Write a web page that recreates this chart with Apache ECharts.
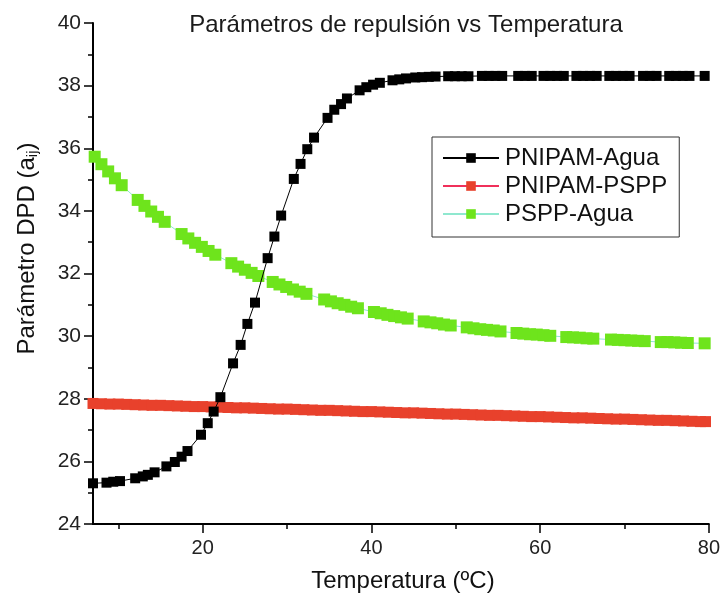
<!DOCTYPE html>
<html>
<head>
<meta charset="utf-8">
<script src="https://cdn.jsdelivr.net/npm/echarts@6/dist/echarts.min.js"></script>
<style>html,body{margin:0;padding:0;background:#fff}#c{width:723px;height:605px}</style>
</head>
<body>
<div id="c"></div>
<script>
// ---- data ----
const titleText = 'Parámetros de repulsión vs Temperatura';
const xName = 'Temperatura (ºC)';
const seriesNames = ['PNIPAM-Agua', 'PNIPAM-PSPP', 'PSPP-Agua'];
const xMajorTicks = [20, 40, 60, 80];
const xMinorTicks = [10, 30, 50, 70];

const blackT = [7.0, 8.6, 9.4, 10.2, 12.0, 12.9, 13.5, 14.3, 15.7, 16.7, 17.5, 18.2, 19.8, 20.6, 21.3, 22.1,
  23.6, 24.5, 25.3, 26.2, 27.7, 28.5, 29.3, 30.8, 31.6, 32.4, 33.2, 34.8, 35.6, 36.4, 37.1,
  38.6, 39.4, 40.2, 41.0, 42.5, 43.3, 44.1, 45.2, 46.0, 46.8, 47.6, 49.1, 49.9, 50.7, 51.5,
  53.1, 53.9, 54.7, 55.5, 57.4, 58.2, 59.0, 60.4, 61.2, 62.0, 62.8, 64.3, 65.1, 65.9, 66.7,
  68.2, 69.0, 69.8, 70.6, 72.2, 73.0, 73.8, 75.3, 76.1, 76.9, 77.7, 79.5];
const blackY = [25.30, 25.32, 25.35, 25.37, 25.46, 25.52, 25.57, 25.65, 25.84, 25.98, 26.15, 26.33, 26.85, 27.22, 27.59, 28.05,
  29.13, 29.72, 30.39, 31.07, 32.49, 33.18, 33.85, 35.02, 35.50, 35.97, 36.34, 36.97, 37.23, 37.41, 37.59,
  37.85, 37.95, 38.03, 38.09, 38.17, 38.20, 38.23, 38.26, 38.27, 38.28, 38.29, 38.30, 38.30, 38.30, 38.30,
  38.31, 38.31, 38.31, 38.31, 38.31, 38.31, 38.31, 38.31, 38.31, 38.31, 38.31, 38.31, 38.31, 38.31, 38.31,
  38.31, 38.31, 38.31, 38.31, 38.31, 38.31, 38.31, 38.31, 38.31, 38.31, 38.31, 38.31];

const redT = [7, 8, 9, 10, 11, 12, 13, 14, 15, 16, 17, 18, 19, 20, 21, 22, 23, 24, 25, 26, 27, 28, 29, 30,
  31, 32, 33, 34, 35, 36, 37, 38, 39, 40, 41, 42, 43, 44, 45, 46, 47, 48, 49, 50, 51, 52, 53, 54,
  55, 56, 57, 58, 59, 60, 61, 62, 63, 64, 65, 66, 67, 68, 69, 70, 71, 72, 73, 74, 75, 76, 77, 78, 79, 79.6];
const redY = [27.85, 27.84, 27.83, 27.83, 27.82, 27.81, 27.80, 27.79, 27.79, 27.78, 27.77, 27.76, 27.75,
  27.75, 27.74, 27.73, 27.72, 27.71, 27.71, 27.70, 27.69, 27.68, 27.67, 27.67, 27.66, 27.65, 27.64, 27.63,
  27.63, 27.62, 27.61, 27.60, 27.59, 27.59, 27.58, 27.57, 27.56, 27.55, 27.55, 27.54, 27.53, 27.52, 27.51,
  27.51, 27.50, 27.49, 27.48, 27.47, 27.47, 27.46, 27.45, 27.44, 27.43, 27.43, 27.42, 27.41, 27.40, 27.39,
  27.39, 27.38, 27.37, 27.36, 27.35, 27.35, 27.34, 27.33, 27.32, 27.31, 27.31, 27.30, 27.29, 27.28, 27.27, 27.27];

const greenT = [7.2, 8.0, 8.8, 9.6, 10.4, 12.3, 13.1, 13.9, 14.7, 15.5, 17.5, 18.3, 19.1, 19.9, 20.7, 21.5,
  23.4, 24.2, 25.0, 25.8, 26.6, 28.3, 29.1, 29.9, 30.7, 31.5, 32.3, 34.4, 35.2, 36.0, 36.8, 37.6, 38.4,
  40.3, 41.1, 41.9, 42.7, 43.5, 44.3, 46.2, 47.0, 47.8, 48.6, 49.4, 51.3, 52.1, 52.9, 53.7, 54.5, 55.3,
  57.2, 58.0, 58.8, 59.6, 60.4, 61.2, 63.1, 63.9, 64.7, 65.5, 66.3, 68.4, 69.2, 70.0, 70.8, 71.6, 72.4,
  74.3, 75.1, 75.9, 76.7, 77.5, 79.5];
const greenY = [35.73, 35.49, 35.26, 35.04, 34.82, 34.35, 34.16, 33.98, 33.81, 33.65, 33.26, 33.12, 32.98, 32.85, 32.72, 32.60,
  32.33, 32.22, 32.12, 32.02, 31.92, 31.73, 31.65, 31.57, 31.49, 31.42, 31.35, 31.17, 31.11, 31.05, 31.00, 30.94, 30.89,
  30.77, 30.73, 30.68, 30.64, 30.60, 30.56, 30.47, 30.44, 30.41, 30.37, 30.34, 30.28, 30.25, 30.22, 30.20, 30.18, 30.15,
  30.10, 30.08, 30.06, 30.05, 30.03, 30.01, 29.97, 29.96, 29.95, 29.93, 29.92, 29.89, 29.88, 29.87, 29.86, 29.85, 29.84,
  29.81, 29.81, 29.80, 29.79, 29.78, 29.77];

// ---- chart ----
const zip = (a, b) => a.map((v, i) => [v, b[i]]);
const FONT = '"Liberation Sans", Arial, sans-serif';
const chart = echarts.init(document.getElementById('c'), null, { renderer: 'canvas' });
const axisLineStyle = { color: '#000', width: 2 };

chart.setOption({
  backgroundColor: '#fff',
  animation: false,
  title: {
    text: titleText, left: 401, top: 8, textAlign: 'center',
    textStyle: { fontFamily: FONT, fontSize: 24, fontWeight: 'normal', color: '#1a1a1a' }
  },
  legend: {
    orient: 'vertical', left: 432, top: 137,
    padding: [9, 12, 11, 10], itemGap: 4, itemWidth: 56, itemHeight: 12,
    borderColor: '#333', borderWidth: 1, backgroundColor: '#fff',
    textStyle: { fontFamily: FONT, fontSize: 24, color: '#111', padding: [0, 0, 0, 1] },
    data: seriesNames
  },
  grid: { left: 93, right: 11, top: 23, bottom: 81 },
  xAxis: [{
    type: 'value', min: 7, max: 80,
    name: xName, nameLocation: 'middle', nameGap: 45,
    nameTextStyle: { fontFamily: FONT, fontSize: 24, color: '#111', padding: [0, 0, 0, 4] },
    axisLine: { lineStyle: axisLineStyle },
    axisTick: { customValues: xMajorTicks, length: 9, inside: false, lineStyle: { color: '#000', width: 1.5 } },
    axisLabel: { customValues: xMajorTicks, fontFamily: FONT, fontSize: 20, color: '#222', margin: 14 },
    splitLine: { show: false }
  }, {
    type: 'value', min: 7, max: 80, position: 'bottom',
    axisLine: { show: false },
    axisTick: { customValues: xMinorTicks, length: 5, lineStyle: { color: '#000', width: 1.5 } },
    axisLabel: { show: false },
    splitLine: { show: false }
  }],
  yAxis: {
    type: 'value', min: 24, max: 40, interval: 2,
    name: '{n|Parámetro DPD (a}{s|ij}{n|)}', nameLocation: 'middle', nameGap: 53,
    nameTextStyle: {
      padding: [0, 0, 0, 50],
      rich: {
        n: { fontFamily: FONT, fontSize: 24, color: '#111' },
        s: { fontFamily: FONT, fontSize: 15, color: '#111', verticalAlign: 'bottom', padding: [11, 0, 0, 0] }
      }
    },
    axisLine: { show: true, lineStyle: axisLineStyle },
    axisTick: { show: true, length: 9, lineStyle: { color: '#000', width: 1.5 } },
    minorTick: { show: true, splitNumber: 2, length: 5, lineStyle: { color: '#000', width: 1.5 } },
    axisLabel: { fontFamily: FONT, fontSize: 21, color: '#222', margin: 12 },
    splitLine: { show: false }
  },
  series: [{
    name: seriesNames[0], type: 'line', data: zip(blackT, blackY), z: 5,
    symbol: 'rect', symbolSize: 10, showAllSymbol: true,
    itemStyle: { color: '#000' }, lineStyle: { color: '#000', width: 1 }
  }, {
    name: seriesNames[1], type: 'line', data: zip(redT, redY), z: 3,
    symbol: 'rect', symbolSize: 11, showAllSymbol: true,
    itemStyle: { color: '#e8412c' }, lineStyle: { color: '#f0305a', width: 1 }
  }, {
    name: seriesNames[2], type: 'line', data: zip(greenT, greenY), z: 4,
    symbol: 'rect', symbolSize: 12, showAllSymbol: true,
    itemStyle: { color: '#6ee41c' }, lineStyle: { color: '#8fe8cf', width: 1 }
  }]
});
</script>
</body>
</html>
